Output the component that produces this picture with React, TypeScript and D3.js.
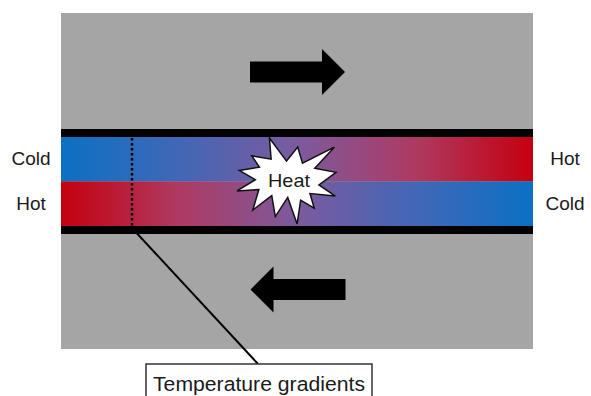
import React from "react";
import * as d3 from "d3";

// stream labels, top stream first
const leftLabels = ["Cold", "Hot"];
const rightLabels = ["Hot", "Cold"];
// +1 = flows to the right, -1 = flows to the left
const flowDirections = [1, -1];
const streamIds = ["top", "bottom"];

// temperature colour ramp, cold -> hot
const rampStops = [0, 0.25, 0.5, 0.75, 1];
const rampColors = ["#0B70C4", "#4267B6", "#7C5A9E", "#AE3A62", "#C5000F"];

const burstLabel = "Heat";
const calloutLabel = "Temperature gradients";

// explosion shape outline (office "irregularSeal1", 21600 grid)
const sealX = [10800, 14522, 14155, 18380, 16702, 21097, 17607, 21600, 16837, 18145, 14020, 13247, 10532, 8485, 7715, 4762, 5667, 135, 3722, 0, 4627, 370, 7312, 8352];
const sealY = [5800, 0, 5325, 4457, 7315, 8137, 10475, 13290, 12942, 18095, 14457, 19737, 14935, 21600, 15627, 17617, 13937, 14587, 11775, 8615, 7617, 2295, 6320, 2295];

const W = 591;
const H = 396;

const App: React.FC = () => {
  const x = d3.scaleLinear().domain([0, 1]).range([61, 533]);
  const y = d3.scaleLinear().domain([0, 1]).range([13, 349]);
  // stream bands inside the tube
  const band = d3.scaleBand().domain(streamIds).range([137, 226]);
  const wall = 8;

  const sealXs = d3.scaleLinear().domain([21600, 0]).range([237, 336]); // mirrored
  const sealYs = d3.scaleLinear().domain([0, 21600]).range([138, 224]);
  const seal = d3.line<number>()
    .x(i => sealXs(sealX[i]))
    .y(i => sealYs(sealY[i]))
    .curve(d3.curveLinearClosed)(d3.range(sealX.length));

  const arrowCx = [297.5, 298];
  const arrowCy = [72, 289.5];
  const arrow = (dir: number, cx: number, cy: number) => {
    const half = 47.5, headLen = 23, bodyH = 10.5, headH = 23;
    const tip = cx + dir * half;
    const tail = cx - dir * half;
    const neck = tip - dir * headLen;
    const p = d3.path();
    p.moveTo(tail, cy - bodyH);
    p.lineTo(neck, cy - bodyH);
    p.lineTo(neck, cy - headH);
    p.lineTo(tip, cy);
    p.lineTo(neck, cy + headH);
    p.lineTo(neck, cy + bodyH);
    p.lineTo(tail, cy + bodyH);
    p.closePath();
    return p.toString();
  };

  const font = "'Liberation Sans', Arial, sans-serif";
  const probeX = 132;

  return (
    <svg width={W} height={H} style={{ position: "absolute", left: 0, top: 0, display: "block" }}>
      <defs>
        {streamIds.map((id, i) => (
          <linearGradient key={id} id={`grad-${id}`} y1="0" y2="0"
            x1={flowDirections[i] > 0 ? "0" : "1"} x2={flowDirections[i] > 0 ? "1" : "0"}>
            {rampStops.map((s, j) => (
              <stop key={j} offset={s} stopColor={rampColors[j]} />
            ))}
          </linearGradient>
        ))}
      </defs>
      <rect x={0} y={0} width={W} height={H} fill="#fff" />
      <rect x={x(0)} y={y(0)} width={x(1) - x(0)} height={y(1) - y(0)} fill="#A5A5A5" />

      {/* tube walls */}
      <rect x={x(0)} y={band.range()[0] - wall} width={x(1) - x(0)} height={wall} fill="#000" />
      <rect x={x(0)} y={band.range()[1]} width={x(1) - x(0)} height={wall} fill="#000" />

      {streamIds.map((id, i) => (
        <g key={id}>
          <rect
            x={x(0)}
            y={band(id)!}
            width={x(1) - x(0)}
            height={band.bandwidth()}
            fill={`url(#grad-${id})`}
          />
          <text x={31} y={band(id)! + band.bandwidth() / 2 + 1} textAnchor="middle"
            dominantBaseline="middle" fontFamily={font} fontSize={19} fill="#1a1a1a">
            {leftLabels[i]}
          </text>
          <text x={565} y={band(id)! + band.bandwidth() / 2 + 1} textAnchor="middle"
            dominantBaseline="middle" fontFamily={font} fontSize={19} fill="#1a1a1a">
            {rightLabels[i]}
          </text>
          <path d={arrow(flowDirections[i], arrowCx[i], arrowCy[i])} fill="#000" />
        </g>
      ))}

      {/* temperature gradient probe */}
      <line x1={probeX} x2={probeX} y1={band.range()[0] + 1} y2={band.range()[1]}
        stroke="#000" strokeWidth={2.5} strokeDasharray="2.5 2.5" />
      <line x1={probeX} y1={228} x2={258} y2={364} stroke="#000" strokeWidth={2} />
      <rect x={146} y={364} width={226} height={40} fill="#fff" stroke="#333" strokeWidth={1.5} />
      <text x={259} y={391} textAnchor="middle" fontFamily={font} fontSize={20.5} fill="#1a1a1a"
        textLength={212} lengthAdjust="spacingAndGlyphs">
        {calloutLabel}
      </text>

      {/* heat burst */}
      <path d={seal!} fill="#fff" stroke="#111" strokeWidth={1.5} strokeLinejoin="miter" />
      <text x={289} y={187} textAnchor="middle" fontFamily={font} fontSize={19} fill="#1a1a1a"
        textLength={42} lengthAdjust="spacingAndGlyphs">
        {burstLabel}
      </text>
    </svg>
  );
};

export default App;
